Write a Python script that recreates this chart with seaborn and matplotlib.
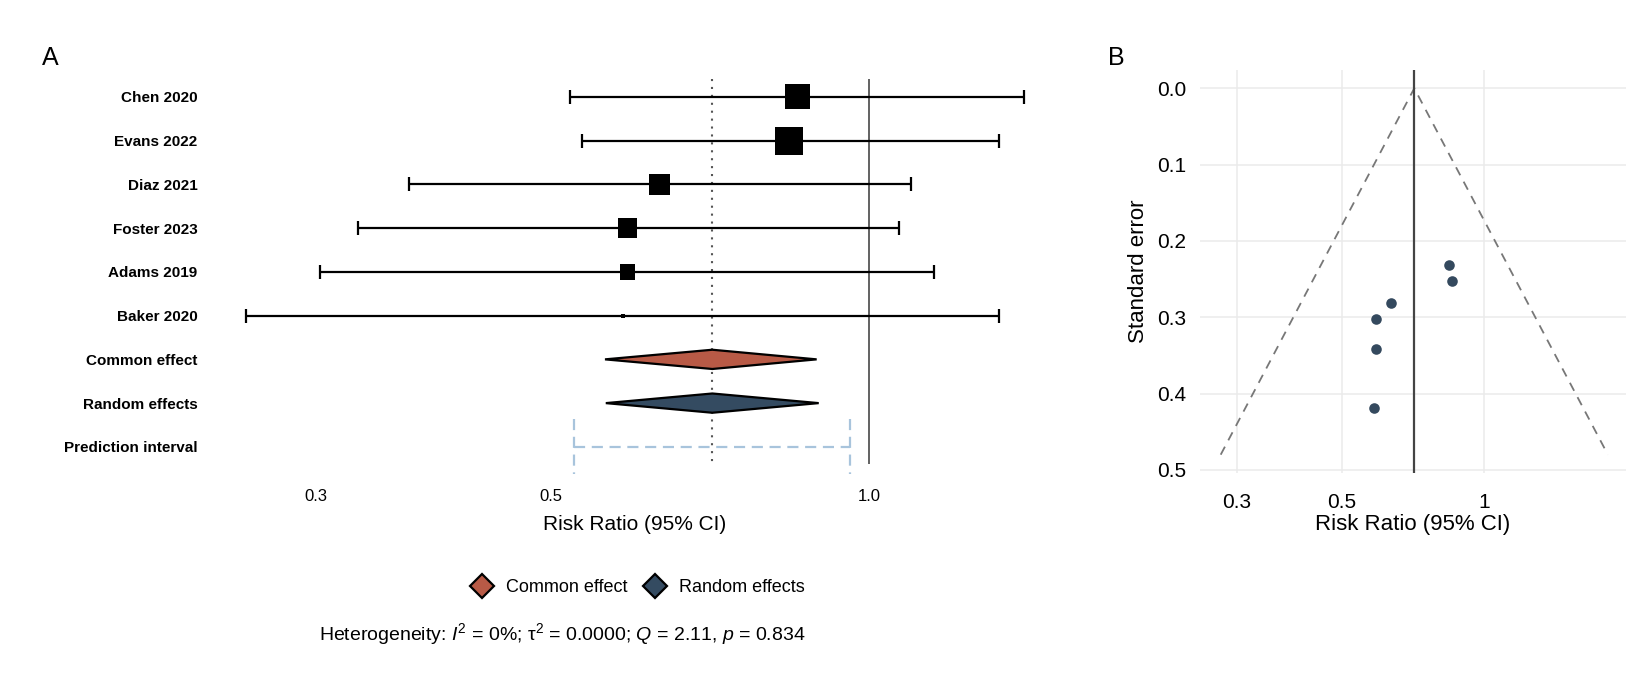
# forest plot + funnel plot for the six studies (risk ratio, log scale)

import numpy as np
import pandas as pd
import matplotlib
matplotlib.use('Agg')
import matplotlib.pyplot as plt
from matplotlib.lines import Line2D
import seaborn as sns

sns.set_theme(style='white')
plt.rcParams['font.family'] = ['Liberation Sans', 'DejaVu Sans']
plt.rcParams['text.color'] = 'black'
plt.rcParams['axes.labelcolor'] = 'black'
plt.rcParams['xtick.color'] = 'black'
plt.rcParams['ytick.color'] = 'black'
plt.rcParams['mathtext.fontset'] = 'custom'
plt.rcParams['mathtext.rm'] = 'Liberation Sans'
plt.rcParams['mathtext.it'] = 'Liberation Sans:italic'

# study level results, top to bottom as in the forest plot
studies = ['Chen 2020', 'Evans 2022', 'Diaz 2021', 'Foster 2023', 'Adams 2019', 'Baker 2020']
rr = [0.856, 0.840, 0.634, 0.591, 0.591, 0.585]
ci_lower = [0.522, 0.535, 0.368, 0.329, 0.303, 0.258]
ci_upper = [1.400, 1.325, 1.096, 1.068, 1.152, 1.325]
std_err = [0.252, 0.231, 0.281, 0.302, 0.342, 0.419]
weights = [21.7, 25.8, 17.5, 15.2, 11.9, 7.9]  # percent

# pooled estimates
pooled_labels = ['Common effect', 'Random effects']
pooled_rr = [0.711, 0.711]
pooled_lower = [0.563, 0.564]
pooled_upper = [0.892, 0.896]
pred_lower, pred_upper = 0.526, 0.960
pooled_colors = ['#B85A46', '#344B61']

funnel_se = [0.0, 0.48]
het_text = r"Heterogeneity: $I^2$ = 0%; τ$^2$ = 0.0000; $Q$ = 2.11, $p$ = 0.834"

row_labels = studies + pooled_labels + ['Prediction interval']
df = pd.DataFrame({'study': studies, 'rr': rr, 'lo': ci_lower, 'hi': ci_upper,
                   'se': std_err, 'w': weights})
df['row'] = np.arange(1, len(studies) + 1)

# square side grows with sqrt of rescaled weight (px -> pt)
wn = (df['w'] - df['w'].min()) / (df['w'].max() - df['w'].min())
side_pt = (4 + np.sqrt(wn) * 24) * 0.72
size_map = dict(zip(df['study'], side_pt ** 2))

fig = plt.figure(figsize=(16.5, 6.9), dpi=100)

# ---- A: forest plot ----
ax = fig.add_axes([0.1255, 0.327, 0.518, 0.558])
ax.set_xscale('log')

ax.vlines(1.0, 0.6, 9.4, color='#555555', lw=1.3, zorder=1)
ax.vlines(pooled_rr[1], 0.6, 9.4, color='#555555', lw=1.5, linestyles=(0, (1, 2.8)), zorder=1)

ax.errorbar(df['rr'], df['row'],
            xerr=[df['rr'] - df['lo'], df['hi'] - df['rr']],
            fmt='none', ecolor='black', elinewidth=1.6, capsize=4.7, capthick=1.6, zorder=2)
sns.scatterplot(data=df, x='rr', y='row', size='study', sizes=size_map, marker='s',
                color='black', linewidth=0, legend=False, ax=ax, zorder=3)

h = 0.22
for i, (est, lo, hi) in enumerate(zip(pooled_rr, pooled_lower, pooled_upper)):
    y = len(studies) + 1 + i
    ax.fill([lo, est, hi, est], [y, y - h, y, y + h], facecolor=pooled_colors[i],
            edgecolor='black', lw=1.6, zorder=3)

y_pi = len(row_labels)
ax.hlines(y_pi, pred_lower, pred_upper, color='#A8C4DC', lw=1.6, linestyles=(0, (5, 3)))
ax.vlines([pred_lower, pred_upper], y_pi - 0.63, y_pi + 0.63, color='#A8C4DC', lw=1.6,
          linestyles=(0, (5, 3)), clip_on=False)

ax.set_xlim(0.237, 1.52)
ax.set_ylim(9.4, 0.6)
ax.set_yticks(range(1, len(row_labels) + 1))
ax.set_yticklabels(row_labels, fontweight='bold', fontsize=11)
ax.set_xticks([0.3, 0.5, 1.0])
ax.set_xticklabels(['0.3', '0.5', '1.0'], fontsize=12)
ax.xaxis.set_minor_locator(matplotlib.ticker.NullLocator())
ax.tick_params(axis='x', length=0, pad=17.5)
ax.tick_params(axis='y', length=0, pad=7)
ax.set_xlabel('Risk Ratio (95% CI)', fontsize=15, labelpad=8.5)
ax.set_ylabel('')
for s in ax.spines.values():
    s.set_visible(False)

handles = [Line2D([], [], ls='none', marker='D', markersize=12.5, markerfacecolor=c,
                  markeredgecolor='black', markeredgewidth=1.6) for c in pooled_colors]
fig.legend(handles, pooled_labels, loc='center', bbox_to_anchor=(0.3845, 0.148), ncol=2,
           frameon=False, fontsize=13, handletextpad=0.35, columnspacing=0.5)
fig.text(0.3406, 0.081, het_text, ha='center', va='center', fontsize=14)
fig.text(0.0306, 0.916, 'A', fontsize=18, ha='center', va='center')

# ---- B: funnel plot ----
ax2 = fig.add_axes([0.7273, 0.3145, 0.2582, 0.5841])
ax2.set_xscale('log')
centre = pooled_rr[0]
fse = np.array(funnel_se)
funnel = pd.DataFrame({
    'x': np.concatenate([np.exp(np.log(centre) - 1.96 * fse[::-1]), np.exp(np.log(centre) + 1.96 * fse)]),
    'se': np.concatenate([fse[::-1], fse]),
})
sns.lineplot(data=funnel, x='x', y='se', sort=False, estimator=None, color='#777777',
             lw=1.3, linestyle=(0, (5, 4)), ax=ax2)
ax2.axvline(centre, color='#444444', lw=1.6)
sns.scatterplot(data=df, x='rr', y='se', color='#34495E', s=58, linewidth=0, ax=ax2, zorder=3)

ax2.set_xlim(0.251, 1.99)
ax2.set_ylim(0.504, -0.024)
ax2.set_xticks([0.3, 0.5, 1.0])
ax2.set_xticklabels(['0.3', '0.5', '1'])
ax2.xaxis.set_minor_locator(matplotlib.ticker.NullLocator())
ax2.set_yticks([0.0, 0.1, 0.2, 0.3, 0.4, 0.5])
ax2.set_yticklabels(['0.0', '0.1', '0.2', '0.3', '0.4', '0.5'])
ax2.grid(True, color='#EBEBEB', lw=1.1)
ax2.set_axisbelow(True)
ax2.tick_params(length=3.8, width=1.1, color='#BBBBBB', labelsize=15, labelcolor='black', pad=6)
ax2.tick_params(axis='x', pad=10.5)
ax2.set_xlabel('Risk Ratio (95% CI)', fontsize=16, labelpad=1.5)
ax2.set_ylabel('Standard error', fontsize=16, labelpad=6)
for s in ax2.spines.values():
    s.set_visible(False)
fig.text(0.6764, 0.916, 'B', fontsize=18, ha='center', va='center')

fig.savefig('out.png', dpi=100, facecolor='white')
